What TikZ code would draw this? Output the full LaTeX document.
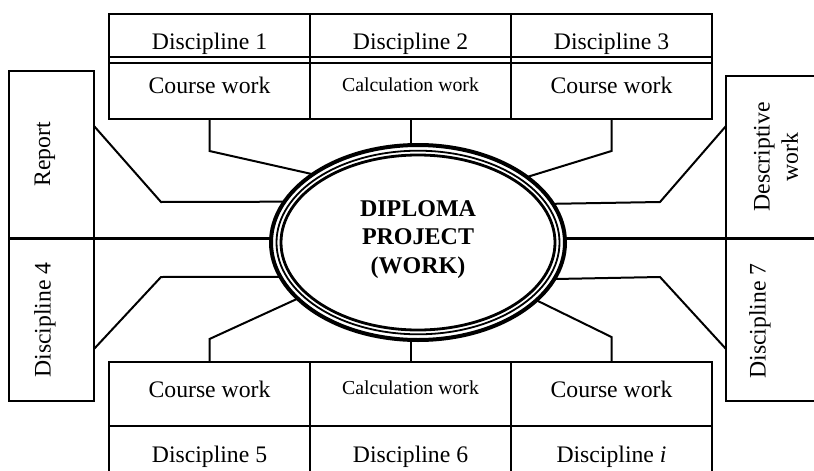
\documentclass[tikz,border=0pt]{standalone}
\usepackage{fontspec}
\setmainfont{Liberation Serif}
\usetikzlibrary{shapes.geometric}
\begin{document}
\begin{tikzpicture}[x=1pt,y=-1pt,
  box/.style={draw, line width=2.4pt, rectangle, inner sep=0pt, outer sep=0pt},
  conn/.style={line width=2pt},
  txt/.style={inner sep=0pt, outer sep=0pt, font=\fontsize{23.7pt}{28.4pt}\selectfont},
  smalltxt/.style={inner sep=0pt, outer sep=0pt, font=\fontsize{19.8pt}{24pt}\selectfont},
  titletxt/.style={inner sep=0pt, outer sep=0pt, align=center, font=\fontsize{24pt}{28.4pt}\selectfont\bfseries},
]
\useasboundingbox (0,0) rectangle (814,471);
\clip (0,0) rectangle (814,471);

% top block
\node[box, minimum width=201pt, minimum height=43pt] (d1) at (209.5,35.5) {};
\node[box, minimum width=201pt, minimum height=43pt] (d2) at (410.5,35.5) {};
\node[box, minimum width=201pt, minimum height=43pt] (d3) at (611.5,35.5) {};
\node[box, minimum width=201pt, minimum height=62pt] (cw1) at (209.5,88) {};
\node[box, minimum width=201pt, minimum height=62pt] (cw2) at (410.5,88) {};
\node[box, minimum width=201pt, minimum height=62pt] (cw3) at (611.5,88) {};
\draw[line width=2.4pt] ([yshift=-6pt]cw1.north west) -- ([yshift=-6pt]cw3.north east);

% bottom block
\node[box, minimum width=201pt, minimum height=64pt] (cb1) at (209.5,394) {};
\node[box, minimum width=201pt, minimum height=64pt] (cb2) at (410.5,394) {};
\node[box, minimum width=201pt, minimum height=64pt] (cb3) at (611.5,394) {};
\node[box, minimum width=201pt, minimum height=66pt] (db1) at (209.5,459) {};
\node[box, minimum width=201pt, minimum height=66pt] (db2) at (410.5,459) {};
\node[box, minimum width=201pt, minimum height=66pt] (db3) at (611.5,459) {};

% side boxes
\node[box, minimum width=85pt, minimum height=167.5pt] (rep) at (51.5,154.75) {};
\node[box, minimum width=85pt, minimum height=162.5pt] (dis4) at (51.5,319.75) {};
\node[box, minimum width=104pt, minimum height=162.5pt] (desc) at (778,157.25) {};
\node[box, minimum width=104pt, minimum height=162.5pt] (dis7) at (778,319.75) {};

% texts
\node[txt, anchor=base] (td1) at (209.5,49) {Discipline 1};
\node[txt, anchor=base] (td2) at (410.5,49) {Discipline 2};
\node[txt, anchor=base] (td3) at (611.5,49) {Discipline 3};
\node[txt, anchor=base] (tcw1) at (209.5,93) {Course work};
\node[smalltxt, anchor=base] (tcw2) at (410.5,91) {Calculation work};
\node[txt, anchor=base] (tcw3) at (611.5,93) {Course work};
\node[txt, anchor=base] (tcb1) at (209.5,397) {Course work};
\node[smalltxt, anchor=base] (tcb2) at (410.5,394) {Calculation work};
\node[txt, anchor=base] (tcb3) at (611.5,397) {Course work};
\node[txt, anchor=base] (tdb1) at (209.5,462) {Discipline 5};
\node[txt, anchor=base] (tdb2) at (410.5,462) {Discipline 6};
\node[txt, anchor=base] (tdb3) at (611.5,462) {Discipline \textit{i}};
\node[txt, rotate=90] (trep) at (45,154.5) {Report};
\node[txt, rotate=90] (tdis4) at (45,320) {Discipline 4};
\node[txt, rotate=90, align=center] (tdesc) at (776,157) {Descriptive\\work};
\node[txt, rotate=90] (tdis7) at (760,321) {Discipline 7};

% central ellipse
\node[ellipse, draw, line width=4pt, minimum width=294pt, minimum height=195pt, inner sep=0pt, outer sep=0pt] (E) at (418,242.5) {};
\draw[line width=1.8pt] (E.center) ellipse [x radius=141.5pt, y radius=91.8pt];
\draw[line width=2.8pt] (E.center) ellipse [x radius=137pt, y radius=87.5pt];
\node[titletxt] (Et) at (418,239.5) {DIPLOMA\\PROJECT\\(WORK)};

% connectors
\draw[conn] (cw1.south) -- ++(0,32) -- (E.147.2);
\draw[conn] (cw2.south) -- (cw2.south |- E.north);
\draw[conn] (cw3.south) -- ++(0,32) -- (E.31.5);
\draw[conn] (rep.east |- 0,126) -- (161,202) -- (E.163.15);
\draw[conn, line width=2.4pt] (rep.south east) -- (rep.south east -| E.west);
\draw[conn] (dis4.east |- 0,349) -- (161,277) -- (E.194.1);
\draw[conn] (desc.west |- 0,126) -- (660,202) -- (E.16.85);
\draw[conn, line width=2.4pt] (desc.south west) -- (desc.south west -| E.east);
\draw[conn] (dis7.west |- 0,349) -- (660,277) -- (E.345.9);
\draw[conn] (cb1.north) -- ++(0,-23) -- (E.205.5);
\draw[conn] (cb2.north) -- (cb2.north |- E.south);
\draw[conn] (cb3.north) -- ++(0,-25) -- (E.334.5);
\end{tikzpicture}
\end{document}
